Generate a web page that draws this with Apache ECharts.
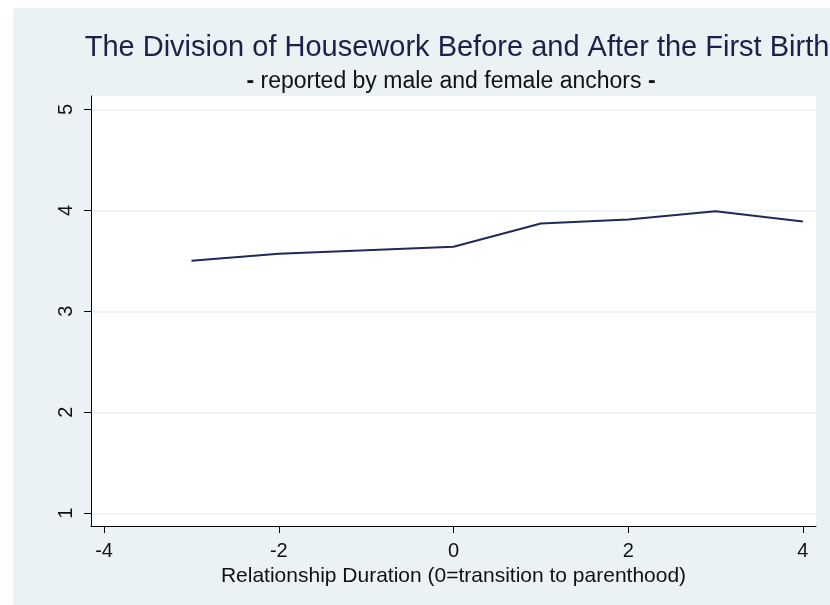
<!DOCTYPE html>
<html>
<head>
<meta charset="utf-8">
<script src="https://cdn.jsdelivr.net/npm/echarts@6/dist/echarts.min.js"></script>
<style>
  html, body { margin: 0; padding: 0; background: #ffffff; }
  #chart { position: absolute; left: 13px; top: 8px; width: 817px; height: 597px; }
</style>
</head>
<body>
<div id="chart"></div>
<script>
const titleText = 'The Division of Housework Before and After the First Birth';
const subtitleText = 'reported by male and female anchors';
const xAxisTitle = 'Relationship Duration (0=transition to parenthood)';
const durations = [-3, -2, 0, 1, 2, 3, 4];
const divisionValues = [3.50, 3.57, 3.64, 3.87, 3.91, 3.99, 3.89];
const xTicks = [-4, -2, 0, 2, 4];
const yTicks = [1, 2, 3, 4, 5];

const FONT = '"Liberation Sans", Arial, Helvetica, sans-serif';
const chart = echarts.init(document.getElementById('chart'));

chart.setOption({
  backgroundColor: '#eaf2f3',
  animation: false,
  textStyle: { fontFamily: FONT },
  title: [
    {
      text: titleText,
      left: 439,
      top: 20,
      textAlign: 'center',
      padding: 5,
      textStyle: { fontFamily: FONT, fontSize: 29, lineHeight: 29, fontWeight: 'normal', color: '#1b2148' }
    },
    {
      text: '{b|-} ' + subtitleText + ' {b|-}',
      left: 433,
      top: 57,
      textAlign: 'center',
      padding: 5,
      textStyle: {
        fontFamily: FONT, fontSize: 23, lineHeight: 23, fontWeight: 'normal', color: '#111111',
        rich: { b: { fontFamily: FONT, fontSize: 23, lineHeight: 23, fontWeight: 'bold', color: '#111111' } }
      }
    }
  ],
  grid: {
    left: 78, right: 14, top: 88, bottom: 79,
    show: true, backgroundColor: '#ffffff', borderWidth: 0
  },
  xAxis: {
    type: 'value',
    min: -4.15, max: 4.15,
    name: xAxisTitle,
    nameLocation: 'middle',
    nameGap: 33,
    nameTextStyle: { fontFamily: FONT, fontSize: 21, color: '#111111' },
    axisLine: { show: true, onZero: false, lineStyle: { color: '#000000', width: 1 } },
    axisTick: { show: true, length: 7, customValues: xTicks, lineStyle: { color: '#000000', width: 1 } },
    axisLabel: { customValues: xTicks, margin: 15, fontSize: 20, color: '#111111', fontFamily: FONT },
    splitLine: { show: false }
  },
  yAxis: {
    type: 'value',
    min: 0.874, max: 5.132,
    axisLine: { show: true, onZero: false, lineStyle: { color: '#000000', width: 1 } },
    axisTick: { show: true, length: 7, customValues: yTicks, lineStyle: { color: '#000000', width: 1 } },
    axisLabel: { customValues: yTicks, rotate: 90, margin: 15, fontSize: 20, color: '#111111', fontFamily: FONT },
    splitLine: { show: true, lineStyle: { color: '#eaf2f3', width: 1.5 } }
  },
  series: [{
    type: 'line',
    data: durations.map((d, i) => [d, divisionValues[i]]),
    showSymbol: false,
    symbol: 'none',
    lineStyle: { color: '#1f2a58', width: 2 },
    itemStyle: { color: '#1f2a58' }
  }]
});
</script>
</body>
</html>
